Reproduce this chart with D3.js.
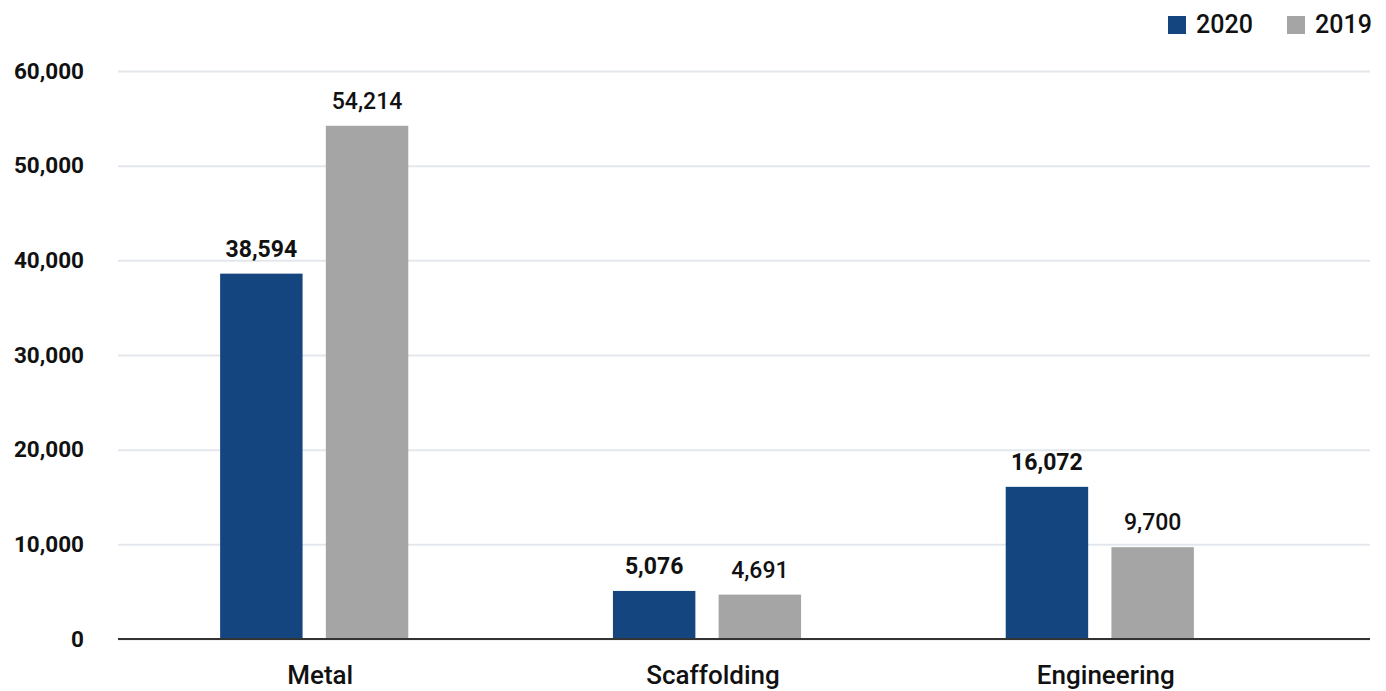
<!DOCTYPE html>
<html>
<head>
<meta charset="utf-8">
<script src="https://cdn.jsdelivr.net/npm/d3@7"></script>
<style>
  html, body { margin: 0; padding: 0; background: #fff; }
  text { font-family: Roboto, "Open Sans", sans-serif; }
</style>
</head>
<body>
<svg id="chart" width="1386" height="691"></svg>
<script>
const categories = ["Metal", "Scaffolding", "Engineering"];
const seriesNames = ["2020", "2019"];
const values2020 = [38594, 5076, 16072];
const values2019 = [54214, 4691, 9700];
const yTicks = [0, 10000, 20000, 30000, 40000, 50000, 60000];
const colors = ["#15457f", "#a5a5a5"];

const svg = d3.select("#chart");
const plotLeft = 118, plotRight = 1370, plotTop = 71, plotBottom = 639;

const y = d3.scaleLinear().domain([0, 60000]).range([plotBottom, plotTop]);
const x0 = d3.scaleBand().domain(categories).range([118, 1296]).paddingInner(0.521).paddingOuter(0.26);
const x1 = d3.scaleBand().domain(seriesNames).range([0, x0.bandwidth()]).paddingInner(0.22);

const fmt = d3.format(",");

// gridlines
const grid = d3.axisLeft(y).tickValues(yTicks).tickSize(-(plotRight - plotLeft)).tickFormat("");
svg.append("g").attr("transform", `translate(${plotLeft},0)`).call(grid)
  .call(g => g.select(".domain").remove())
  .call(g => g.selectAll("line").attr("stroke", "#e3e7ec").attr("stroke-width", 2));

// y labels
const yAxis = d3.axisLeft(y).tickValues(yTicks).tickSize(0).tickPadding(34).tickFormat(fmt);
svg.append("g").attr("transform", `translate(${plotLeft},0)`).call(yAxis)
  .call(g => g.select(".domain").remove())
  .call(g => g.selectAll("text")
    .attr("font-family", "Roboto, sans-serif")
    .attr("font-size", 22.5).attr("font-weight", 700).attr("fill", "#111"));

const data = categories.map((c, i) => ({ cat: c, vals: [values2020[i], values2019[i]] }));

const groups = svg.append("g").selectAll("g").data(data).join("g")
  .attr("transform", d => `translate(${x0(d.cat)},0)`);

groups.selectAll("rect").data(d => d.vals.map((v, j) => ({ s: seriesNames[j], v, j })))
  .join("rect")
  .attr("x", d => x1(d.s))
  .attr("width", x1.bandwidth())
  .attr("y", d => y(d.v))
  .attr("height", d => y(0) - y(d.v))
  .attr("fill", d => colors[d.j]);

groups.selectAll("text.val").data(d => d.vals.map((v, j) => ({ s: seriesNames[j], v, j })))
  .join("text").attr("class", "val")
  .attr("x", d => x1(d.s) + x1.bandwidth() / 2)
  .attr("y", d => y(d.v) - 17)
  .attr("text-anchor", "middle")
  .attr("font-size", 23)
  .attr("font-weight", d => d.j === 0 ? 700 : 500)
  .attr("fill", "#111")
  .text(d => fmt(d.v));

// x axis
const xAxis = d3.axisBottom(x0).tickSize(0).tickPadding(27);
svg.append("g").attr("transform", `translate(0,${plotBottom})`).call(xAxis)
  .call(g => g.select(".domain").remove())
  .call(g => g.selectAll("text")
    .attr("font-family", "Roboto, sans-serif")
    .attr("font-size", 26).attr("font-weight", 500).attr("fill", "#111")
    .attr("dx", 6));
svg.append("line").attr("x1", plotLeft).attr("x2", plotRight).attr("y1", plotBottom).attr("y2", plotBottom)
  .attr("stroke", "#333").attr("stroke-width", 2);

// legend
const legendX = [1168, 1287];
const legend = svg.append("g").selectAll("g").data(seriesNames).join("g")
  .attr("transform", (d, i) => `translate(${legendX[i]},16)`);
legend.append("rect").attr("width", 18).attr("height", 18).attr("fill", (d, i) => colors[i]);
legend.append("text").attr("x", 28).attr("y", 17)
  .attr("font-size", 25).attr("font-weight", 500).attr("fill", "#111").text(d => d);
</script>
</body>
</html>
